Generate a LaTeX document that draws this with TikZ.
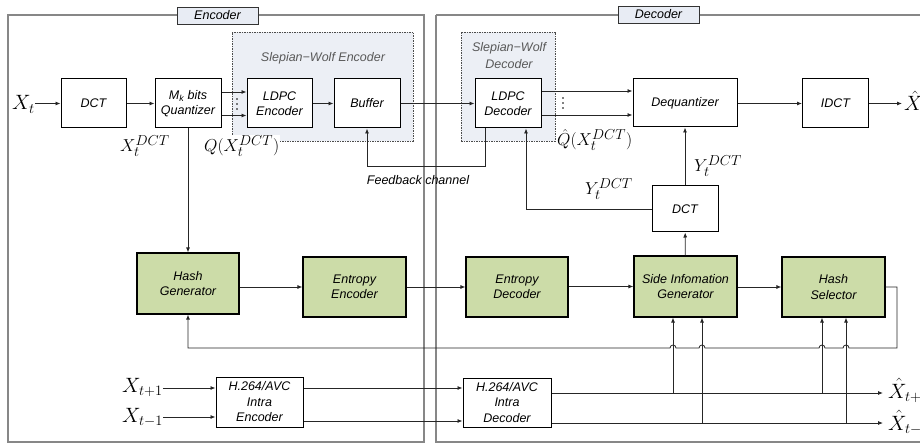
\documentclass[tikz,border=0pt]{standalone}
\usepackage{fontspec}
\setmainfont{Liberation Serif}
\setsansfont{Liberation Sans}
\usetikzlibrary{arrows.meta,calc}
\definecolor{gfill}{RGB}{204,220,168}
\definecolor{swfill}{RGB}{236,239,245}
\definecolor{tagfill}{RGB}{232,236,244}
\definecolor{panelc}{RGB}{135,135,135}
\begin{document}
\begin{tikzpicture}[x=1pt,y=-1pt,
 every node/.style={inner sep=0pt},
 boxfont/.style={font=\sffamily\itshape\fontsize{12.5}{15.5}\selectfont},
 blk/.style={draw=black, line width=1pt, fill=white, boxfont, align=center},
 gblk/.style={blk, fill=gfill, line width=1.2pt},
 arr/.style={draw=black!85, line width=0.8pt, -{Latex[length=5pt,width=4pt]}},
 ln/.style={draw=black!85, line width=0.8pt},
 mbig/.style={font=\fontsize{22}{22}\selectfont, anchor=base west},
 msm/.style={font=\fontsize{19}{19}\selectfont, anchor=base west},
 panel/.style={draw=panelc, line width=1.2pt},
 tagbox/.style={draw=black!80, line width=0.8pt, fill=tagfill, boxfont, minimum width=81pt, minimum height=17pt},
 swbox/.style={draw=black!70, dash pattern=on 1.5pt off 1pt, line width=0.7pt, fill=swfill},
 swtext/.style={font=\sffamily\itshape\fontsize{12.5}{15.5}\selectfont, text=black!65, align=center},
]
\useasboundingbox (0,0) rectangle (920,446);
% panels
\draw[panel] (8,15) rectangle (424,442);
\draw[panel] (436,15) -- (925,15) (436,15) -- (436,442) -- (925,442);
\node[tagbox] (enclab) at (217.5,15.5) {Encoder};
\node[tagbox] (declab) at (658.5,14.5) {Decoder};
% Slepian-Wolf boxes
\node[swbox, minimum width=181pt, minimum height=109pt] (swe) at (322.5,86.5) {};
\node[swbox, minimum width=94pt, minimum height=109pt] (swd) at (508,86.5) {};
\node[swtext] (swet) at (323,58) {Slepian−Wolf Encoder};
\node[swtext] (swdt) at (509,56) {Slepian−Wolf\\[1.5pt]Decoder};
% blocks
\node[blk, minimum width=65pt, minimum height=49pt] (dct) at (93.5,103.5) {DCT};
\node[blk, minimum width=66pt, minimum height=49pt] (quant) at (188,103.5) {M\textsubscript{k} bits\\Quantizer};
\node[blk, minimum width=65pt, minimum height=49pt] (ldpce) at (279.5,103.5) {LDPC\\Encoder};
\node[blk, minimum width=66pt, minimum height=49pt] (buf) at (367,103.5) {Buffer};
\node[blk, minimum width=66pt, minimum height=49pt] (ldpcd) at (508,103.5) {LDPC\\Decoder};
\node[blk, minimum width=104pt, minimum height=48pt] (deq) at (685,103) {Dequantizer};
\node[blk, minimum width=66pt, minimum height=49pt] (idct) at (835.5,103.5) {IDCT};
\node[blk, minimum width=66pt, minimum height=46pt] (dct2) at (685,209) {DCT};
\node[gblk, minimum width=102pt, minimum height=61pt] (hashg) at (188,283.5) {Hash\\Generator};
\node[gblk, minimum width=103pt, minimum height=60pt] (entenc) at (354.5,287) {Entropy\\Encoder};
\node[gblk, minimum width=102pt, minimum height=60pt] (entdec) at (517,287) {Entropy\\Decoder};
\node[gblk, minimum width=103pt, minimum height=61pt] (sig) at (685.5,286.5) {Side Infomation\\Generator};
\node[gblk, minimum width=103pt, minimum height=60pt] (hsel) at (833.5,287) {Hash\\Selector};
\node[blk, minimum width=87pt, minimum height=50pt] (h264e) at (259.5,402) {H.264/AVC\\Intra\\Encoder};
\node[blk, minimum width=88pt, minimum height=49pt] (h264d) at (507,402.5) {H.264/AVC\\Intra\\Decoder};
% math labels
\node[mbig] (Xt) at (12,110) {$X_t$};
\node[msm] (XtD) at (120,152) {$X_t^{DCT}$};
\node[msm, fill=white, inner sep=1pt] (QX) at (203,152) {$Q(X_t^{DCT})$};
\node[msm] (QhX) at (557,146) {$\hat{Q}(X_t^{DCT})$};
\node[msm] (Y1) at (694,172) {$Y_t^{DCT}$};
\node[msm] (Y2) at (585,195) {$Y_t^{DCT}$};
\node[mbig] (Xh) at (904,111) {$\hat{X}$};
\node[mbig] (Xp) at (122,392) {$X_{t+1}$};
\node[mbig] (Xm) at (122,422) {$X_{t-1}$};
\node[mbig] (Xhp) at (888,398) {$\hat{X}_{t+1}$};
\node[mbig] (Xhm) at (888,430) {$\hat{X}_{t-1}$};
\node[swtext, text=black] (fb) at (418,180) {Feedback channel};
% top row connectors
\draw[arr] (Xt.east |- dct.west) -- (dct.west);
\draw[arr] (dct) -- (quant);
\draw[arr] ([yshift=11.5pt]quant.east) -- ([yshift=11.5pt]ldpce.west);
\draw[arr] ([yshift=-12pt]quant.east) -- ([yshift=-12pt]ldpce.west);
\foreach \yy in {99,104,109} \fill (237,\yy) circle[radius=0.8pt];
\draw[arr] (ldpce) -- (buf);
\draw[arr] (buf) -- (ldpcd);
\draw[arr] ([yshift=12.5pt]ldpcd.east) -- ([yshift=12pt]deq.west);
\draw[arr] ([yshift=-11.5pt]ldpcd.east) -- ([yshift=-12pt]deq.west);
\foreach \yy in {98,103,108} \fill (563,\yy) circle[radius=0.8pt];
\draw[arr] (deq.east |- idct.west) -- (idct.west);
\draw[arr] (idct.east) -- ([xshift=-2pt]Xh.west |- idct.east);
% feedback and side information
\draw[arr] ([xshift=-23pt]ldpcd.south) -- ++(0,38) -| (buf.south);
\draw[arr] (dct2.west) -| ([xshift=18pt]ldpcd.south);
\draw[arr] (dct2) -- (deq);
\draw[arr] (sig) -- (dct2);
\draw[arr] (quant) -- (hashg);
% middle row
\draw[arr] (hashg.east |- entenc.west) -- (entenc.west);
\draw[arr] (entenc) -- (entdec);
\draw[arr] (entdec.east |- sig.west) -- (sig.west);
\draw[arr] (sig.east |- hsel.west) -- (hsel.west);
% H.264 paths
\coordinate (ei1) at ([yshift=14pt]h264e.west);
\coordinate (ei2) at ([yshift=-15pt]h264e.west);
\coordinate (ei3) at ([yshift=-19pt]h264e.east);
\draw[arr] (Xp.east |- ei1) -- (ei1);
\draw[arr] (Xm.east |- ei2) -- (ei2);
\draw[arr] (h264e.east |- ei1) -- (h264d.west |- ei1);
\draw[arr] (ei3) -- (h264d.west |- ei3);
\coordinate (op) at (883,393);
\coordinate (om) at (883,423);
\draw[arr] (h264d.east |- op) -- (op);
\draw[arr] (h264d.east |- om) -- (om);
\coordinate (v1) at ([xshift=-12.5pt]sig.south);
\coordinate (v2) at ([xshift=16.5pt]sig.south);
\coordinate (v3) at ([xshift=-11.5pt]hsel.south);
\coordinate (v4) at ([xshift=12.5pt]hsel.south);
\draw[arr] (v1 |- op) -- (v1);
\draw[arr] (v2 |- om) -- (v2);
\draw[arr] (v3 |- op) -- (v3);
\draw[arr] (v4 |- om) -- (v4);
% return path from hash selector with line hops
\coordinate (ret) at (897,348);
\draw[arr] (hsel.east) -| (ret) -- (849,348) arc[start angle=0,end angle=180,radius=3pt]
  -- (825,348) arc[start angle=0,end angle=180,radius=3pt]
  -- (705,348) arc[start angle=0,end angle=180,radius=3pt]
  -- (676,348) arc[start angle=0,end angle=180,radius=3pt]
  -| (hashg.south);
\end{tikzpicture}
\end{document}
